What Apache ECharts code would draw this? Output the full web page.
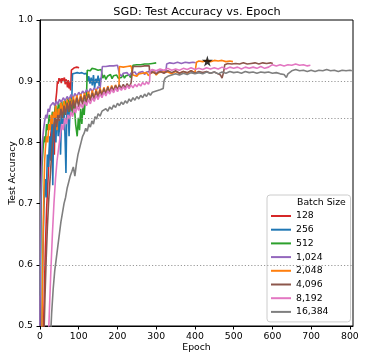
<!DOCTYPE html>
<html>
<head>
<meta charset="utf-8">
<script src="https://cdn.jsdelivr.net/npm/echarts@6/dist/echarts.min.js"></script>
<style>
  html, body { margin: 0; padding: 0; background: #fff; }
  #main { width: 366px; height: 361px; }
</style>
</head>
<body>
<div id="main"></div>
<script>
// batch sizes (legend) and colours
var batchSizes = ['128', '256', '512', '1,024', '2,048', '4,096', '8,192', '16,384'];
var colors = ['#d62728', '#1f77b4', '#2ca02c', '#9467bd', '#ff7f0e', '#8c564b', '#e377c2', '#7f7f7f'];

var xTicks = [0, 100, 200, 300, 400, 500, 600, 700, 800];
var yTicks = [0.5, 0.6, 0.7, 0.8, 0.9, 1.0];
var refLines = [0.895, 0.84, 0.6];
var starPoint = [[432, 0.933]];

// [epoch, test accuracy]
var acc128 = [[8,0.46],[11,0.55],[14,0.63],[17,0.69],[20,0.73],[23,0.77],[26,0.80],[29,0.82],[32,0.84],[35,0.80],[37,0.78],[39,0.85],[41,0.87],[43,0.882],[45,0.90],[47,0.896],[49,0.905],[51,0.899],[53,0.904],[55,0.897],[57,0.905],[59,0.901],[61,0.898],[63,0.906],[65,0.895],[67,0.903],[69,0.899],[71,0.89],[73,0.902],[75,0.888],[77,0.898],[79,0.885],[80,0.90],[81,0.918],[83,0.921],[86,0.92],[89,0.922],[92,0.921],[95,0.923],[98,0.922],[101,0.922]];

var acc256 = [[4,0.46],[7,0.6],[10,0.69],[13,0.74],[16,0.71],[19,0.78],[22,0.76],[25,0.81],[28,0.77],[31,0.83],[33,0.73],[35,0.82],[38,0.845],[41,0.80],[44,0.855],[47,0.81],[50,0.86],[53,0.78],[56,0.85],[59,0.83],[62,0.865],[65,0.80],[67,0.75],[69,0.84],[72,0.87],[75,0.81],[78,0.86],[80,0.875],[82,0.87],[84,0.912],[87,0.915],[90,0.913],[93,0.916],[96,0.914],[99,0.917],[102,0.913],[105,0.915],[108,0.914],[111,0.917],[114,0.912],[117,0.915],[120,0.913],[122,0.914],[123,0.90],[126,0.908],[129,0.896],[132,0.906],[135,0.893],[138,0.91],[141,0.889],[144,0.904],[147,0.897],[150,0.909],[153,0.892],[156,0.905],[159,0.903]];

var acc512 = [[1,0.55],[3,0.70],[5,0.76],[8,0.79],[11,0.81],[14,0.80],[17,0.83],[20,0.82],[24,0.845],[28,0.83],[32,0.85],[36,0.84],[40,0.86],[44,0.845],[48,0.865],[52,0.85],[56,0.868],[60,0.845],[64,0.87],[68,0.855],[72,0.872],[76,0.85],[80,0.87],[84,0.845],[88,0.865],[92,0.83],[96,0.81],[99,0.84],[102,0.82],[105,0.855],[108,0.83],[111,0.86],[114,0.845],[117,0.87],[120,0.875],[122,0.918],[126,0.92],[130,0.917],[134,0.921],[138,0.918],[142,0.92],[146,0.922],[150,0.918],[154,0.921],[158,0.919],[161,0.92],[162,0.905],[166,0.91],[170,0.903],[174,0.908],[178,0.905],[182,0.911],[186,0.904],[190,0.909],[194,0.906],[198,0.91],[202,0.905],[206,0.908],[210,0.906],[214,0.911],[218,0.905],[222,0.909],[226,0.907],[230,0.91],[234,0.906],[238,0.909],[240,0.926],[245,0.928],[250,0.927],[255,0.929],[260,0.927],[265,0.929],[270,0.928],[275,0.93],[280,0.928],[285,0.93],[290,0.929],[295,0.931],[300,0.93]];

var acc1024 = [[0,0.5],[1,0.62],[2,0.70],[4,0.76],[6,0.80],[9,0.82],[12,0.835],[15,0.845],[18,0.84],[21,0.855],[24,0.85],[27,0.86],[30,0.858],[34,0.865],[38,0.86],[42,0.868],[46,0.862],[50,0.87],[55,0.866],[60,0.873],[65,0.868],[70,0.875],[75,0.87],[80,0.878],[85,0.872],[90,0.88],[95,0.875],[100,0.882],[105,0.877],[110,0.884],[115,0.879],[120,0.886],[125,0.881],[130,0.888],[135,0.883],[140,0.889],[145,0.885],[150,0.891],[155,0.887],[160,0.89],[161,0.924],[165,0.926],[170,0.924],[175,0.927],[180,0.925],[185,0.927],[190,0.925],[195,0.927],[200,0.926],[204,0.925],[205,0.912],[210,0.908],[215,0.913],[220,0.91],[225,0.914],[230,0.909],[235,0.913],[240,0.911],[245,0.915],[250,0.91],[255,0.914],[260,0.912],[265,0.916],[270,0.911],[275,0.915],[280,0.912],[285,0.916],[290,0.913],[295,0.917],[300,0.912],[305,0.916],[310,0.913],[315,0.917],[320,0.914],[325,0.916],[327,0.928],[335,0.93],[345,0.929],[355,0.931],[365,0.929],[375,0.931],[385,0.93],[395,0.931],[402,0.93]];

var acc2048 = [[4,0.45],[6,0.55],[8,0.65],[10,0.72],[12,0.77],[14,0.79],[17,0.81],[20,0.80],[23,0.83],[26,0.82],[29,0.845],[32,0.83],[35,0.85],[38,0.84],[41,0.86],[44,0.82],[47,0.855],[50,0.845],[54,0.865],[58,0.85],[62,0.868],[66,0.85],[70,0.87],[74,0.855],[78,0.872],[82,0.858],[86,0.875],[90,0.86],[95,0.877],[100,0.862],[105,0.879],[110,0.866],[115,0.881],[120,0.868],[125,0.883],[130,0.87],[135,0.885],[140,0.872],[145,0.887],[150,0.875],[155,0.889],[160,0.877],[165,0.89],[170,0.879],[175,0.892],[180,0.881],[185,0.893],[190,0.884],[195,0.894],[200,0.886],[204,0.893],[205,0.924],[210,0.925],[215,0.923],[220,0.926],[225,0.924],[230,0.926],[235,0.925],[239,0.925],[240,0.91],[245,0.913],[250,0.908],[255,0.912],[260,0.909],[265,0.913],[270,0.91],[275,0.914],[280,0.909],[285,0.913],[290,0.911],[295,0.915],[300,0.91],[305,0.914],[310,0.911],[315,0.915],[320,0.912],[330,0.915],[340,0.912],[350,0.916],[360,0.913],[370,0.916],[380,0.913],[390,0.917],[400,0.914],[403,0.916],[404,0.931],[410,0.933],[420,0.932],[430,0.934],[440,0.932],[450,0.934],[460,0.933],[470,0.934],[480,0.932],[490,0.933],[498,0.932]];

var acc4096 = [[10,0.48],[13,0.55],[16,0.61],[19,0.66],[22,0.70],[25,0.73],[28,0.76],[31,0.79],[34,0.81],[37,0.83],[40,0.84],[43,0.825],[46,0.845],[50,0.835],[54,0.855],[58,0.84],[62,0.86],[66,0.845],[70,0.865],[74,0.85],[78,0.868],[82,0.852],[86,0.87],[90,0.855],[95,0.873],[100,0.858],[105,0.875],[110,0.862],[115,0.877],[120,0.865],[125,0.879],[130,0.868],[135,0.881],[140,0.87],[145,0.884],[150,0.873],[155,0.886],[160,0.876],[165,0.888],[170,0.879],[175,0.89],[180,0.881],[185,0.891],[190,0.884],[195,0.893],[200,0.886],[205,0.894],[210,0.888],[215,0.895],[220,0.889],[225,0.896],[230,0.89],[235,0.897],[239,0.895],[240,0.924],[245,0.926],[250,0.924],[255,0.926],[260,0.924],[265,0.926],[270,0.925],[275,0.926],[282,0.925],[283,0.912],[290,0.915],[300,0.912],[310,0.916],[320,0.913],[330,0.917],[340,0.914],[350,0.917],[360,0.913],[370,0.916],[380,0.914],[390,0.917],[400,0.913],[410,0.916],[420,0.914],[430,0.916],[440,0.913],[450,0.915],[460,0.912],[466,0.91],[470,0.905],[474,0.915],[477,0.927],[485,0.929],[495,0.928],[505,0.929],[515,0.928],[525,0.93],[535,0.928],[545,0.929],[555,0.93],[565,0.928],[575,0.93],[585,0.929],[595,0.93],[601,0.929]];

var acc8192 = [[20,0.45],[24,0.52],[28,0.59],[32,0.65],[36,0.70],[40,0.74],[44,0.77],[48,0.79],[52,0.81],[56,0.83],[60,0.82],[64,0.84],[68,0.83],[72,0.845],[76,0.838],[80,0.85],[84,0.842],[88,0.855],[92,0.848],[96,0.86],[100,0.852],[105,0.863],[110,0.856],[115,0.867],[120,0.86],[125,0.87],[130,0.863],[135,0.873],[140,0.867],[145,0.877],[150,0.87],[155,0.879],[160,0.873],[165,0.882],[170,0.876],[175,0.884],[180,0.879],[185,0.887],[190,0.881],[195,0.889],[200,0.883],[205,0.89],[210,0.885],[215,0.891],[220,0.886],[225,0.893],[230,0.888],[235,0.894],[240,0.889],[245,0.895],[250,0.891],[255,0.896],[260,0.892],[265,0.898],[270,0.894],[275,0.899],[280,0.895],[283,0.9],[284,0.917],[290,0.919],[300,0.917],[310,0.92],[320,0.918],[330,0.921],[340,0.918],[350,0.92],[360,0.918],[370,0.921],[380,0.919],[390,0.922],[400,0.919],[410,0.921],[420,0.919],[430,0.922],[440,0.92],[450,0.922],[460,0.92],[470,0.923],[480,0.92],[490,0.923],[500,0.921],[510,0.923],[520,0.92],[530,0.923],[540,0.921],[550,0.923],[560,0.921],[570,0.924],[580,0.921],[590,0.923],[594,0.926],[600,0.927],[610,0.925],[620,0.927],[630,0.925],[640,0.927],[650,0.926],[660,0.928],[670,0.926],[680,0.927],[690,0.925],[698,0.926]];

var acc16384 = [[27,0.48],[30,0.52],[34,0.56],[38,0.59],[42,0.61],[46,0.63],[50,0.65],[54,0.67],[58,0.685],[62,0.70],[66,0.71],[70,0.725],[74,0.735],[78,0.745],[82,0.752],[86,0.76],[90,0.745],[94,0.765],[98,0.78],[102,0.79],[106,0.80],[110,0.81],[114,0.815],[118,0.823],[122,0.818],[126,0.83],[130,0.825],[134,0.835],[138,0.83],[142,0.842],[146,0.838],[150,0.847],[155,0.843],[160,0.851],[165,0.848],[170,0.855],[175,0.851],[180,0.858],[185,0.854],[190,0.861],[195,0.857],[200,0.864],[205,0.86],[210,0.866],[215,0.862],[220,0.868],[225,0.864],[230,0.871],[235,0.867],[240,0.873],[245,0.869],[250,0.875],[255,0.871],[260,0.877],[265,0.873],[270,0.879],[275,0.875],[280,0.881],[285,0.877],[290,0.882],[295,0.879],[300,0.884],[305,0.881],[310,0.886],[315,0.883],[318,0.888],[320,0.90],[323,0.905],[326,0.903],[330,0.908],[335,0.906],[340,0.91],[350,0.912],[360,0.91],[370,0.913],[380,0.911],[390,0.914],[400,0.912],[410,0.914],[420,0.912],[430,0.915],[440,0.913],[450,0.915],[460,0.912],[470,0.915],[480,0.913],[490,0.916],[500,0.914],[510,0.915],[520,0.913],[530,0.916],[540,0.914],[550,0.915],[560,0.913],[570,0.915],[580,0.914],[590,0.915],[600,0.913],[610,0.914],[620,0.912],[630,0.911],[636,0.906],[640,0.912],[650,0.917],[660,0.919],[670,0.917],[680,0.918],[690,0.916],[700,0.918],[710,0.916],[720,0.918],[730,0.917],[740,0.919],[750,0.917],[760,0.918],[770,0.916],[780,0.918],[790,0.917],[800,0.918],[805,0.917]];

var allSeries = [acc128, acc256, acc512, acc1024, acc2048, acc4096, acc8192, acc16384];

var FONT = 'DejaVu Sans';
var chart = echarts.init(document.getElementById('main'));

var series = [];
for (var i = 0; i < allSeries.length; i++) {
  series.push({
    name: batchSizes[i],
    type: 'line',
    data: allSeries[i],
    showSymbol: false,
    symbol: 'none',
    color: colors[i],
    lineStyle: { width: 1.6, color: colors[i] },
    emphasis: { disabled: true },
    markLine: i === 0 ? {
      silent: true,
      symbol: 'none',
      label: { show: false },
      lineStyle: { type: [1.2, 2], color: '#999', width: 1 },
      data: refLines.map(function (v) { return { yAxis: v }; })
    } : undefined
  });
}
// best result marker
series.push({
  type: 'scatter',
  data: starPoint,
  symbol: 'path://M50,0 L61,35 L98,35 L68,57 L79,91 L50,70 L21,91 L32,57 L2,35 L39,35 Z',
  symbolSize: 11,
  itemStyle: { color: '#000' },
  z: 10
});

var option = {
  animation: false,
  grid: { left: 40, right: 13, top: 20, bottom: 35, show: true, borderColor: '#000', borderWidth: 1, outerBoundsMode: 'none' },
  xAxis: {
    type: 'value', min: 0, max: 808, interval: 100,
    name: 'Epoch', nameLocation: 'middle', nameGap: 17, nameMoveOverlap: false,
    nameTextStyle: { fontFamily: FONT, fontSize: 9.3, color: '#000', verticalAlign: 'top' },
    axisLine: { show: true, lineStyle: { color: '#000', width: 1 } },
    axisTick: { show: true, length: 3.5, lineStyle: { color: '#000' }, customValues: xTicks },
    axisLabel: { fontFamily: FONT, fontSize: 9.3, color: '#000', margin: 6, customValues: xTicks },
    splitLine: { show: false }
  },
  yAxis: {
    type: 'value', min: 0.5, max: 1.0, interval: 0.1,
    name: 'Test Accuracy', nameLocation: 'middle', nameGap: 23, nameMoveOverlap: false,
    nameTextStyle: { fontFamily: FONT, fontSize: 9.3, color: '#000' },
    axisLine: { show: true, lineStyle: { color: '#000', width: 1 } },
    axisTick: { show: true, length: 3.5, lineStyle: { color: '#000' }, customValues: yTicks },
    axisLabel: { fontFamily: FONT, fontSize: 9.3, color: '#000', margin: 7, customValues: yTicks,
      formatter: function (v) { return v.toFixed(1); } },
    splitLine: { show: false }
  },
  legend: {
    data: batchSizes,
    orient: 'vertical',
    left: 267, top: 195,
    padding: [15, 22, 4, 4],
    itemWidth: 20, itemHeight: 2, itemGap: 1.7,
    icon: 'rect',
    selectedMode: false,
    borderColor: '#ccc', borderWidth: 1, borderRadius: 3,
    backgroundColor: 'rgba(255,255,255,0.85)',
    textStyle: { fontFamily: FONT, fontSize: 9.3, color: '#000', lineHeight: 12 }
  },
  graphic: [
    { type: 'text', x: 197, y: 12, style: { text: 'SGD: Test Accuracy vs. Epoch', font: '11.3px "DejaVu Sans"', fill: '#000', align: 'center', verticalAlign: 'middle' } },
    { type: 'text', x: 297, y: 203, z: 100, style: { text: 'Batch Size', font: '9.3px "DejaVu Sans"', fill: '#000', align: 'left', verticalAlign: 'middle' } }
  ],
  series: series
};

chart.setOption(option);
</script>
</body>
</html>
